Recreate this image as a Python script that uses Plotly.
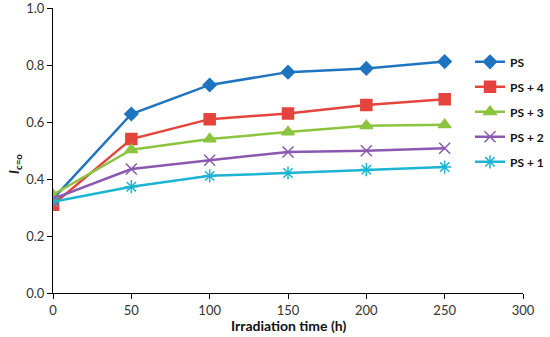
import plotly.graph_objects as go

x_hours = [0, 50, 100, 150, 200, 250]
series_names = ["PS", "PS + 4", "PS + 3", "PS + 2", "PS + 1"]
ps = [0.33, 0.628, 0.73, 0.775, 0.788, 0.812]
ps4 = [0.31, 0.54, 0.61, 0.63, 0.66, 0.68]
ps3 = [0.345, 0.503, 0.54, 0.565, 0.587, 0.59]
ps2 = [0.33, 0.435, 0.466, 0.495, 0.499, 0.508]
ps1 = [0.32, 0.373, 0.411, 0.421, 0.433, 0.442]

colors = ["#1F74C0", "#E5443D", "#8CC43F", "#8A58AE", "#1CB4D2"]
symbols = ["diamond", "square", "triangle-up", "x-thin-open", "asterisk-open"]
sizes = [10, 11, 11, 11, 11]

fig = go.Figure()
for name, vals, c, s, sz in zip(series_names, [ps, ps4, ps3, ps2, ps1], colors, symbols, sizes):
    fig.add_trace(go.Scatter(
        x=x_hours, y=vals, name=name, mode="lines+markers", legendgroup=name,
        line=dict(color=c, width=2.5),
        marker=dict(symbol=s, size=sz, color=c, line=dict(color=c, width=1.5)),
    ))

font_family = "Lato, Open Sans, sans-serif"
fig.update_layout(
    width=550, height=337,
    margin=dict(l=53, r=27, t=8, b=44, autoexpand=False),
    paper_bgcolor="white", plot_bgcolor="white",
    font=dict(family=font_family, size=13, color="#333"),
    showlegend=True,
    legend=dict(x=(470 - 53) / 470, y=0.862, xanchor="left", yanchor="top",
                font=dict(size=12, color="#111", family=font_family, weight="bold"),
                bgcolor="rgba(0,0,0,0)", tracegroupgap=6, itemwidth=30),
    xaxis=dict(range=[0, 300], dtick=50, showline=True, linecolor="black", linewidth=1.2,
               ticks="outside", ticklen=5, tickcolor="black", showgrid=False, zeroline=False,
               automargin=False, ticklabeloverflow="allow"),
    yaxis=dict(range=[0, 1.0], dtick=0.2, tickformat=".1f", showline=True, linecolor="black", linewidth=1.2,
               ticks="outside", ticklen=5, tickcolor="black", showgrid=False, zeroline=False,
               automargin=False, ticklabeloverflow="allow"),
    annotations=[
        dict(text="<b>Irradiation time (h)</b>", xref="paper", yref="paper",
             x=0.5, y=-(325 - 293) / 285, xanchor="center", yanchor="middle",
             showarrow=False, font=dict(size=14, color="#111")),
        dict(text="<b><i>I</i><sub>c=o</sub></b>", xref="paper", yref="paper",
             x=-(53 - 15) / 470, y=(293 - 164) / 285, xanchor="center", yanchor="middle",
             textangle=-90, showarrow=False, font=dict(size=14, color="#111")),
    ],
)

fig.write_html("out.html", config={"displayModeBar": False},
               post_script="document.body.style.margin='0';")
